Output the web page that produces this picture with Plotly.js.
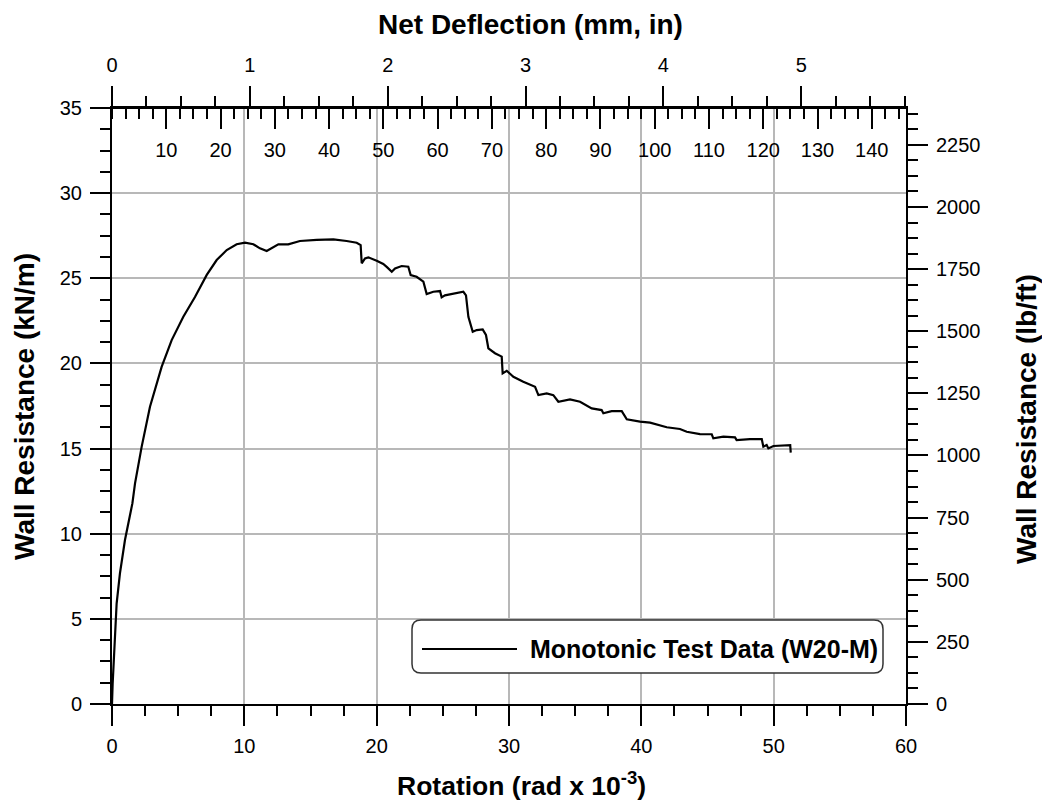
<!DOCTYPE html>
<html>
<head>
<meta charset="utf-8">
<script src="https://cdn.plot.ly/plotly-3.0.1.min.js"></script>
<style>html,body{margin:0;padding:0;background:#fff;}#chart{width:1042px;height:804px;}</style>
</head>
<body>
<div id="chart"></div>
<script>
// ---- data ----
const rotation = [0, 0.05, 0.35, 0.6, 0.98, 1.31, 1.54, 1.74, 2.07, 2.24, 2.87, 3.75, 4.51, 5.39, 6.27, 7.16, 7.91, 8.67, 9.42, 10.05,
  10.68, 11.18, 11.69, 12.07, 12.57, 13.32, 14.2, 15.47, 16.73, 17.73, 18.49, 18.79, 18.87, 19.12, 19.37, 20.0, 20.5, 20.8, 21.14, 21.39,
  21.89, 22.39, 22.57, 23.02, 23.53, 23.78, 24.28, 24.79, 24.91, 25.16, 25.79, 26.55, 26.75, 26.93, 27.26, 27.56, 28.01, 28.26, 28.44, 28.94,
  29.45, 29.52, 29.83, 30.33, 31.08, 31.97, 32.22, 32.85, 33.35, 33.73, 34.61, 35.37, 36.25, 37.0, 37.13, 37.76, 38.52, 38.9, 39.9, 40.66,
  41.92, 42.92, 43.43, 44.43, 45.32, 45.44, 46.2, 47.08, 47.2, 48.21, 49.1, 49.22, 49.47, 49.6, 49.98, 51.1, 51.25, 51.29];
const resistance = [0, 1.2, 5.9, 7.67, 9.63, 11.0, 11.78, 12.96, 14.33, 15.1, 17.46, 19.8, 21.37, 22.74, 23.9, 25.2, 26.07, 26.66, 27.0, 27.09,
  27.0, 26.76, 26.6, 26.76, 26.99, 26.99, 27.19, 27.25, 27.29, 27.19, 27.09, 26.95, 25.88, 26.17, 26.23, 26.03, 25.84, 25.64, 25.38, 25.58,
  25.72, 25.68, 25.19, 25.09, 24.8, 24.07, 24.21, 24.25, 23.88, 24.0, 24.1, 24.21, 24.0, 22.74, 21.86, 21.96, 22.0, 21.67, 20.89, 20.6,
  20.4, 19.42, 19.57, 19.22, 18.93, 18.63, 18.14, 18.24, 18.14, 17.75, 17.89, 17.75, 17.36, 17.26, 17.07, 17.2, 17.2, 16.72, 16.58, 16.52,
  16.25, 16.15, 15.99, 15.85, 15.84, 15.6, 15.7, 15.66, 15.5, 15.56, 15.56, 15.11, 15.21, 15.01, 15.15, 15.21, 15.2, 14.76];
const seriesName = 'Monotonic Test Data (W20-M)';
const rotTicks = [0, 10, 20, 30, 40, 50, 60];
const kNTicks = [0, 5, 10, 15, 20, 25, 30, 35];
const lbTicks = [0, 250, 500, 750, 1000, 1250, 1500, 1750, 2000, 2250];
const inTicks = [0, 1, 2, 3, 4, 5];
const mmTicks = [10, 20, 30, 40, 50, 60, 70, 80, 90, 100, 110, 120, 130, 140];

// unit conversions
const ROT_MAX = 60, KN_MAX = 35;
const WALL_HEIGHT_IN = 96;            // rotation (rad) -> deflection
const IN_TO_MM = 25.4;
const KN_TO_LBFT = 68.5218;

const FONT = 'Liberation Sans, Arial, sans-serif';
const tickFont = {family: FONT, size: 20, color: '#000'};
const axisCommon = {
  showline: true, linecolor: '#000', linewidth: 2, zeroline: false,
  tickcolor: '#000', tickwidth: 2, ticklen: 20, tickfont: tickFont, fixedrange: true
};
const minorTick = (dtick, ticks) => ({tickmode: 'linear', tick0: 0, dtick: dtick, ticks: ticks, ticklen: 10, tickcolor: '#000', tickwidth: 2, showgrid: false});

const defIn = rotation.map(r => r / 1000 * WALL_HEIGHT_IN);
const defMm = defIn.map(v => v * IN_TO_MM);
const resLb = resistance.map(v => v * KN_TO_LBFT);

const traces = [
  {x: rotation, y: resistance, type: 'scatter', mode: 'lines', name: seriesName,
   line: {color: '#000', width: 2.2}, showlegend: false, hoverinfo: 'skip'},
  // same curve in deflection (in) – carries the top inch axis, drawn invisible under the main one
  {x: defIn, y: resistance, xaxis: 'x2', yaxis: 'y', type: 'scatter', mode: 'lines', name: seriesName + ' (in)',
   line: {color: 'rgba(0,0,0,0)', width: 0}, showlegend: false, hoverinfo: 'skip'},
  // same curve in deflection (mm) and lb/ft – carries the mm axis and the right axis
  {x: defMm, y: resLb, xaxis: 'x3', yaxis: 'y2', type: 'scatter', mode: 'lines', name: seriesName + ' (mm, lb/ft)',
   line: {color: 'rgba(0,0,0,0)', width: 0}, showlegend: false, hoverinfo: 'skip'}
];

// plot area geometry (px) for annotation placement
const W = 1042, H = 804, L = 112, R = 136, T = 108, B = 100;
const PW = W - L - R, PH = H - T - B;
const px = v => (v - L) / PW, py = v => (H - B - v) / PH;

const bx0 = px(412), bx1 = px(883), by0 = py(673), by1 = py(620);
const rx = 9 / PW, ry = 9 / PH;
const boxPath = `M${bx0 + rx},${by0} L${bx1 - rx},${by0} Q${bx1},${by0} ${bx1},${by0 + ry} L${bx1},${by1 - ry} Q${bx1},${by1} ${bx1 - rx},${by1} ` +
  `L${bx0 + rx},${by1} Q${bx0},${by1} ${bx0},${by1 - ry} L${bx0},${by0 + ry} Q${bx0},${by0} ${bx0 + rx},${by0} Z`;

const titleFont = {family: FONT, size: 28, color: '#000'};
const GRID = '#b8b8b8';

const layout = {
  width: W, height: H, margin: {l: L, r: R, t: T, b: B, pad: 0},
  paper_bgcolor: '#fff', plot_bgcolor: '#fff', showlegend: false,
  font: {family: FONT, color: '#000'},
  xaxis: Object.assign({}, axisCommon, {
    range: [0, ROT_MAX], tickmode: 'array', tickvals: rotTicks, ticks: 'outside', side: 'bottom',
    showgrid: true, gridcolor: GRID, gridwidth: 2, ticklabelstandoff: 3,
    minor: minorTick(2.5, 'outside')
  }),
  yaxis: Object.assign({}, axisCommon, {
    range: [0, KN_MAX], tickmode: 'array', tickvals: kNTicks, ticks: 'outside', side: 'left',
    showgrid: true, gridcolor: GRID, gridwidth: 2, ticklabelstandoff: 4,
    minor: minorTick(1.25, 'outside')
  }),
  xaxis2: Object.assign({}, axisCommon, {
    overlaying: 'x', anchor: 'y', side: 'top', range: [0, ROT_MAX / 1000 * WALL_HEIGHT_IN],
    tickmode: 'array', tickvals: inTicks, ticks: 'outside', showgrid: false, ticklabelstandoff: 6,
    minor: minorTick(0.25, 'outside')
  }),
  // mm scale: drawn on the top edge, ticks and labels hanging down into the plot
  xaxis3: Object.assign({}, axisCommon, {
    overlaying: 'x', anchor: 'free', position: 1, side: 'bottom', range: [0, ROT_MAX / 1000 * WALL_HEIGHT_IN * IN_TO_MM],
    tickmode: 'array', tickvals: mmTicks, ticks: 'outside', showgrid: false, ticklabelstandoff: 4,
    minor: minorTick(2.5, 'outside')
  }),
  yaxis2: Object.assign({}, axisCommon, {
    overlaying: 'y', anchor: 'x', side: 'right', range: [0, KN_MAX * KN_TO_LBFT],
    tickmode: 'array', tickvals: lbTicks, ticks: 'outside', showgrid: false, ticklabelstandoff: 4,
    minor: minorTick(62.5, 'outside')
  }),
  shapes: [
    {type: 'path', xref: 'paper', yref: 'paper', path: boxPath, fillcolor: '#fff', line: {color: '#333', width: 1.5}, layer: 'above'},
    {type: 'line', xref: 'paper', yref: 'paper', x0: px(422), x1: px(517), y0: py(649), y1: py(649), line: {color: '#000', width: 2.2}, layer: 'above'}
  ],
  annotations: [
    {text: '<b>Net Deflection (mm, in)</b>', xref: 'paper', yref: 'paper', x: px(530), y: py(25), xanchor: 'center', yanchor: 'middle', showarrow: false, font: titleFont},
    {text: '<b>Rotation (rad x 10<sup>-3</sup>)</b>', xref: 'paper', yref: 'paper', x: px(521), y: py(784), xanchor: 'center', yanchor: 'middle', showarrow: false, font: {family: FONT, size: 26.5, color: '#000'}},
    {text: '<b>Wall Resistance (kN/m)</b>', xref: 'paper', yref: 'paper', x: px(24), y: py(407), xanchor: 'center', yanchor: 'middle', textangle: -90, showarrow: false, font: titleFont},
    {text: '<b>Wall Resistance (lb/ft)</b>', xref: 'paper', yref: 'paper', x: px(1026), y: py(419), xanchor: 'center', yanchor: 'middle', textangle: -90, showarrow: false, font: titleFont},
    {text: '<b>' + seriesName + '</b>', xref: 'paper', yref: 'paper', x: px(528), y: py(649), xanchor: 'left', yanchor: 'middle', showarrow: false, font: {family: FONT, size: 25, color: '#000'}}
  ]
};

Plotly.newPlot('chart', traces, layout, {displayModeBar: false, staticPlot: true});
</script>
</body>
</html>
